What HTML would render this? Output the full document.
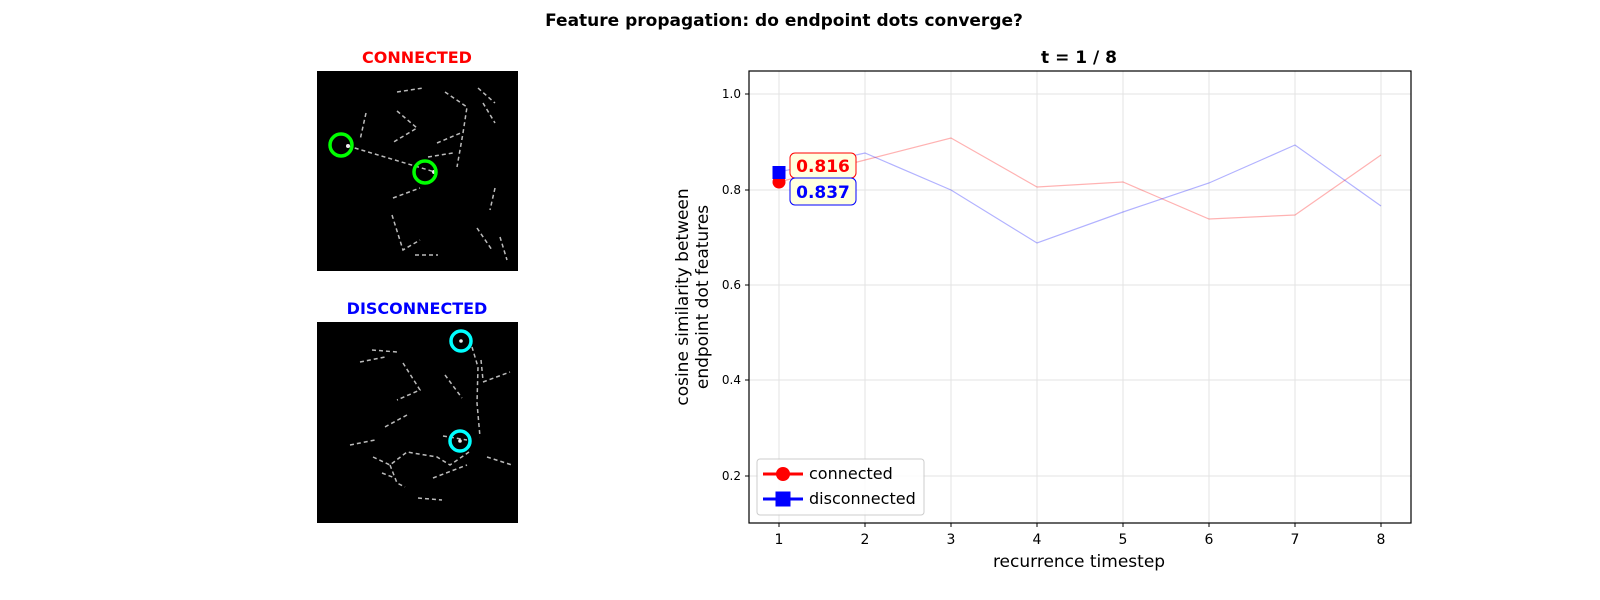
<!DOCTYPE html>
<html><head><meta charset="utf-8"><style>
html,body{margin:0;padding:0;background:#fff;width:1600px;height:600px;overflow:hidden;}
svg{display:block;font-family:"Liberation Sans","DejaVu Sans",sans-serif;}
</style></head><body>
<svg width="1600" height="600" viewBox="0 0 1600 600" xmlns="http://www.w3.org/2000/svg">
<rect width="1600" height="600" fill="#fff"/>
<text x="784" y="26" text-anchor="middle" font-size="17" font-weight="bold" font-family="DejaVu Sans, sans-serif">Feature propagation: do endpoint dots converge?</text>

<!-- Connected image -->
<text x="417" y="63" text-anchor="middle" font-size="16" font-weight="bold" fill="#f00" font-family="DejaVu Sans, sans-serif">CONNECTED</text>
<rect x="317" y="71" width="201" height="200" fill="#000"/>
<g fill="none" stroke="#bbb" stroke-width="1.5" stroke-dasharray="4,3">
<polyline points="397,92 423,88"/>
<polyline points="445,92 467,107 463,133 457,167"/>
<polyline points="478,88 495,103"/>
<polyline points="483,103 495,123"/>
<polyline points="366,113 360,140"/>
<polyline points="397,111 417,128 392,143"/>
<polyline points="437,143 463,132"/>
<polyline points="348,146 435,172"/>
<polyline points="428,157 453,153"/>
<polyline points="393,198 420,188"/>
<polyline points="392,215 403,250 420,240"/>
<polyline points="415,255 438,255"/>
<polyline points="495,188 490,210"/>
<polyline points="477,228 492,250"/>
<polyline points="500,237 507,260"/>
</g>
<circle cx="348" cy="146" r="2" fill="#eee"/><circle cx="434" cy="172" r="2" fill="#eee"/>
<circle cx="341" cy="145" r="11" fill="none" stroke="#0f0" stroke-width="3.5"/>
<circle cx="425" cy="172" r="11" fill="none" stroke="#0f0" stroke-width="3.5"/>

<!-- Disconnected image -->
<text x="417" y="314" text-anchor="middle" font-size="16" font-weight="bold" fill="#00f" font-family="DejaVu Sans, sans-serif">DISCONNECTED</text>
<rect x="317" y="322" width="201" height="201" fill="#000"/>
<g fill="none" stroke="#bbb" stroke-width="1.5" stroke-dasharray="4,3">
<polyline points="372,350 397,352"/>
<polyline points="360,362 385,357"/>
<polyline points="403,363 420,390 397,400"/>
<polyline points="445,375 462,398"/>
<polyline points="472,347 478,367 477,403 480,437"/>
<polyline points="481,360 483,380"/>
<polyline points="483,382 510,372"/>
<polyline points="407,415 383,428"/>
<polyline points="350,445 375,440"/>
<polyline points="373,457 390,465 407,452 437,457 450,465 469,452"/>
<polyline points="443,436 467,440"/>
<polyline points="390,465 397,483 405,487"/>
<polyline points="382,473 395,478"/>
<polyline points="433,478 467,465"/>
<polyline points="487,457 512,465"/>
<polyline points="418,498 442,500"/>
</g>
<circle cx="461" cy="341" r="10" fill="none" stroke="#0ff" stroke-width="3.5"/>
<circle cx="460" cy="441" r="10" fill="none" stroke="#0ff" stroke-width="3.5"/>
<circle cx="461" cy="341" r="1.8" fill="#eee"/><circle cx="460" cy="441" r="1.8" fill="#eee"/>

<!-- Chart -->
<text x="1079" y="63" text-anchor="middle" font-size="17" font-weight="bold" font-family="DejaVu Sans, sans-serif">t = 1 / 8</text>
<g stroke="#e3e3e3" stroke-width="1">
<line x1="779" y1="71" x2="779" y2="523"/><line x1="865" y1="71" x2="865" y2="523"/><line x1="951" y1="71" x2="951" y2="523"/><line x1="1037" y1="71" x2="1037" y2="523"/><line x1="1123" y1="71" x2="1123" y2="523"/><line x1="1209" y1="71" x2="1209" y2="523"/><line x1="1295" y1="71" x2="1295" y2="523"/><line x1="1381" y1="71" x2="1381" y2="523"/>
<line x1="749" y1="94" x2="1411" y2="94"/><line x1="749" y1="190" x2="1411" y2="190"/><line x1="749" y1="285" x2="1411" y2="285"/><line x1="749" y1="380" x2="1411" y2="380"/><line x1="749" y1="476" x2="1411" y2="476"/>
</g>
<polyline fill="none" stroke="#f00" stroke-opacity="0.3" stroke-width="1.2" points="779,182 865,160 951,138 1037,187 1123,182 1209,219 1295,215 1381,155"/>
<polyline fill="none" stroke="#00f" stroke-opacity="0.3" stroke-width="1.2" points="779,172 865,153 951,190 1037,243 1123,212 1209,183 1295,145 1381,206"/>
<circle cx="779" cy="182" r="6.5" fill="#f00"/>
<rect x="772.5" y="166" width="13" height="13" fill="#00f"/>
<rect x="790" y="153" width="66" height="25" rx="5" fill="#ffffe0" stroke="#f00"/>
<text x="823" y="172" text-anchor="middle" font-size="17" font-weight="bold" fill="#f00" font-family="DejaVu Sans, sans-serif">0.816</text>
<rect x="790" y="178" width="66" height="27" rx="5" fill="#ffffe0" stroke="#00f"/>
<text x="823" y="198" text-anchor="middle" font-size="17" font-weight="bold" fill="#00f" font-family="DejaVu Sans, sans-serif">0.837</text>
<rect x="749" y="71" width="662" height="452" fill="none" stroke="#000" stroke-width="1.2"/>
<g stroke="#000"><line x1="749" y1="94" x2="745" y2="94"/><line x1="749" y1="190" x2="745" y2="190"/><line x1="749" y1="285" x2="745" y2="285"/><line x1="749" y1="380" x2="745" y2="380"/><line x1="749" y1="476" x2="745" y2="476"/>
<line x1="779" y1="523" x2="779" y2="527"/><line x1="865" y1="523" x2="865" y2="527"/><line x1="951" y1="523" x2="951" y2="527"/><line x1="1037" y1="523" x2="1037" y2="527"/><line x1="1123" y1="523" x2="1123" y2="527"/><line x1="1209" y1="523" x2="1209" y2="527"/><line x1="1295" y1="523" x2="1295" y2="527"/><line x1="1381" y1="523" x2="1381" y2="527"/></g>
<g font-size="12" text-anchor="end" font-family="DejaVu Sans, sans-serif"><text x="741" y="98">1.0</text><text x="741" y="194">0.8</text><text x="741" y="289">0.6</text><text x="741" y="384">0.4</text><text x="741" y="480">0.2</text></g>
<g font-size="14" text-anchor="middle" font-family="DejaVu Sans, sans-serif"><text x="779" y="544">1</text><text x="865" y="544">2</text><text x="951" y="544">3</text><text x="1037" y="544">4</text><text x="1123" y="544">5</text><text x="1209" y="544">6</text><text x="1295" y="544">7</text><text x="1381" y="544">8</text></g>
<text x="1079" y="567" text-anchor="middle" font-size="17" font-family="DejaVu Sans, sans-serif">recurrence timestep</text>
<text transform="translate(688,297) rotate(-90)" text-anchor="middle" font-size="17" font-family="DejaVu Sans, sans-serif">cosine similarity between</text>
<text transform="translate(708,297) rotate(-90)" text-anchor="middle" font-size="17" font-family="DejaVu Sans, sans-serif">endpoint dot features</text>
<rect x="757" y="459" width="167" height="56" rx="3" fill="#fff" fill-opacity="0.85" stroke="#ccc"/>
<line x1="763" y1="474" x2="803" y2="474" stroke="#f00" stroke-width="3"/><circle cx="783" cy="474" r="7" fill="#f00"/>
<line x1="763" y1="499" x2="803" y2="499" stroke="#00f" stroke-width="3"/><rect x="775.5" y="491.5" width="15" height="15" fill="#00f"/>
<g font-size="16" font-family="DejaVu Sans, sans-serif"><text x="809" y="479">connected</text><text x="809" y="504">disconnected</text></g>
</svg>
</body></html>
